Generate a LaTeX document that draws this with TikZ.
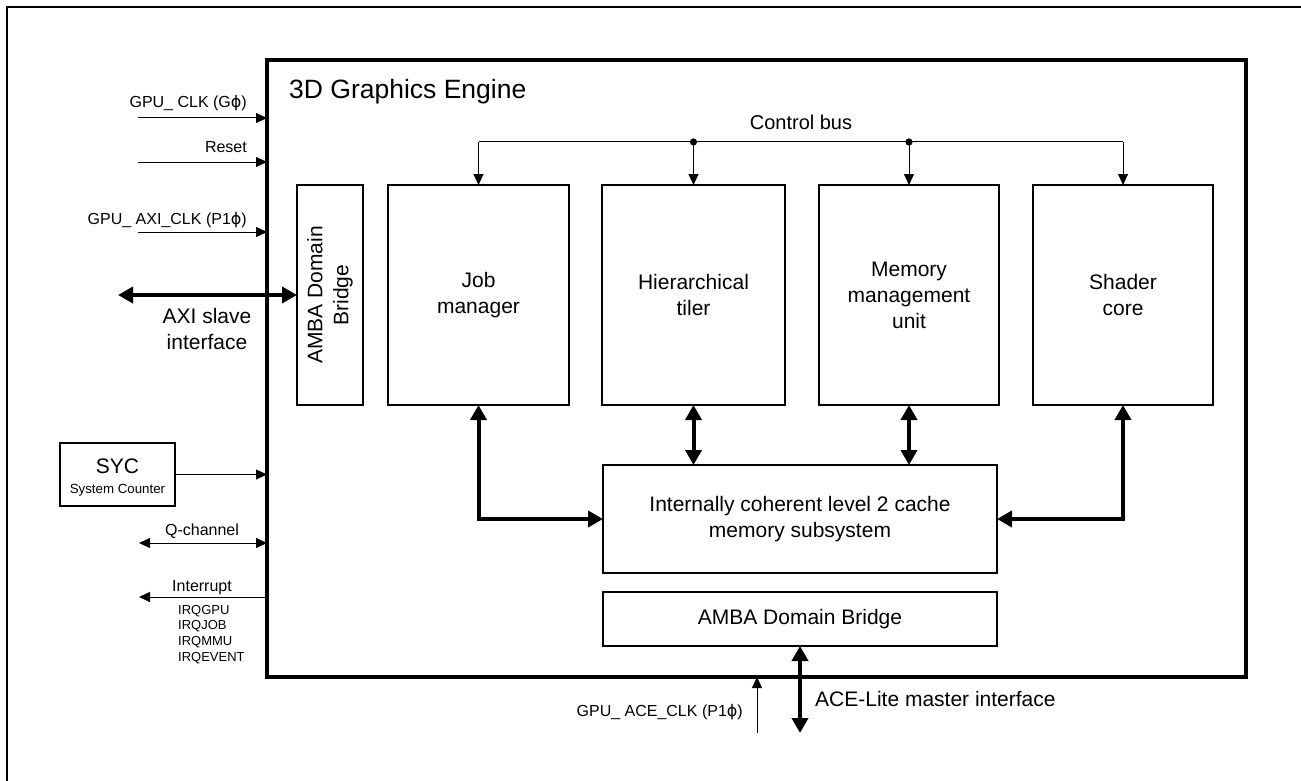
\documentclass[tikz,border=0pt]{standalone}
\usepackage{fontspec}
\setmainfont{Liberation Sans}
\newfontfamily\dvfont{DejaVu Sans}
\usetikzlibrary{arrows.meta}
\newcommand\phisym{{\dvfont ϕ}}
\begin{document}
\begin{tikzpicture}[x=1pt,y=-1pt,
  box/.style={draw, line width=1.4pt, inner sep=0pt, outer sep=0pt, align=center, font=\fontsize{21}{26}\selectfont},
  lbl/.style={inner sep=0pt, font=\fontsize{16}{19}\selectfont},
  big/.style={inner sep=0pt, font=\fontsize{21}{26}\selectfont, align=center},
  sig/.style={line width=1pt, -{Triangle[length=11pt,width=10pt]}},
  sigb/.style={line width=1pt, {Triangle[length=11pt,width=10pt]}-{Triangle[length=11pt,width=10pt]}},
  busline/.style={line width=1pt},
  fat/.style={line width=4pt, {Triangle[length=15pt,width=16pt]}-{Triangle[length=15pt,width=16pt]}},
]
\useasboundingbox (0,0) rectangle (1301,781);
% outer frame
\draw[line width=2pt] (7,781) -- (7,7) -- (1301,7);
% engine
\node[draw, line width=4pt, minimum width=979pt, minimum height=617pt, inner sep=0pt, outer sep=0pt] (eng) at (756.5,368.5) {};
\node[anchor=base west, inner sep=0pt, font=\fontsize{26.5}{30}\selectfont] (title) at (289,99) {3D Graphics Engine};

% inner blocks
\node[box, minimum width=66pt, minimum height=220pt] (amb) at (330,295) {};
\node[big, rotate=90] (ambt) at (amb.center) {AMBA Domain\\Bridge};
\node[box, minimum width=181pt, minimum height=220pt] (job) at (478.5,295) {Job\\manager};
\node[box, minimum width=183pt, minimum height=220pt] (til) at (693.5,295) {Hierarchical\\tiler};
\node[box, minimum width=180pt, minimum height=220pt] (mmu) at (909,295) {Memory\\management\\unit};
\node[box, minimum width=180pt, minimum height=220pt] (sha) at (1123,295) {Shader\\core};
\node[box, minimum width=394pt, minimum height=108pt] (cache) at (800,519) {Internally coherent level 2 cache\\memory subsystem};
\node[box, minimum width=394pt, minimum height=54pt] (ambb) at (800,619) {AMBA Domain Bridge};

% control bus
\coordinate (b1) at (478.5,142);
\coordinate (b2) at (693.5,142);
\coordinate (b3) at (909,142);
\coordinate (b4) at (1123,142);
\draw[busline] (b1) -- (b4);
\draw[sig] (b1) -- (job.north);
\draw[sig] (b2) -- (til.north);
\draw[sig] (b3) -- (mmu.north);
\draw[sig] (b4) -- (sha.north);
\fill (b2) circle (3.6pt);
\fill (b3) circle (3.6pt);
\node[anchor=base, inner sep=0pt, font=\fontsize{20}{24}\selectfont] (cbus) at (801,130) {Control bus};

% data paths
\draw[fat] (job.south) |- (cache.west);
\draw[fat] (sha.south) |- (cache.east);
\draw[fat] (til.south) -- (til.south |- cache.north);
\draw[fat] (mmu.south) -- (mmu.south |- cache.north);

% ACE
\coordinate (ace) at (800,733);
\draw[fat] (ambb.south) -- (ace);
\node[anchor=base west, inner sep=0pt, font=\fontsize{21}{26}\selectfont] (acel) at (815,706) {ACE-Lite master interface};
\coordinate (aceclk) at (757,733);
\draw[sig] (aceclk) -- (aceclk |- eng.south);
\node[lbl, anchor=base east] (aceclkl) at (743,716) {GPU\_ ACE\_CLK (P1\phisym)};

% left side signals
\coordinate (s1) at (138,118);
\coordinate (s2) at (138,162);
\coordinate (s3) at (138,232);
\draw[sig] (s1) -- (s1 -| eng.west);
\draw[sig] (s2) -- (s2 -| eng.west);
\draw[sig] (s3) -- (s3 -| eng.west);
\node[lbl, anchor=base east] (l1) at (247,108) {GPU\_ CLK (G\phisym)};
\node[lbl, anchor=base east] (l2) at (247,153) {Reset};
\node[lbl, anchor=base east] (l3) at (247,224) {GPU\_ AXI\_CLK (P1\phisym)};

% AXI
\coordinate (axi) at (118,295);
\draw[fat] (axi) -- (axi -| amb.west);
\node[big] (axil) at (207,329) {AXI slave\\interface};

% SYC
\node[draw, line width=1.4pt, minimum width=115pt, minimum height=63pt, inner sep=0pt, outer sep=0pt] (syc) at (117.5,474.5) {};
\node[anchor=base, inner sep=0pt, font=\fontsize{21}{26}\selectfont] (sycl) at (117.5,473) {SYC};
\node[anchor=base, inner sep=0pt, font=\fontsize{13.3}{16}\selectfont] (sycs) at (117.5,493) {System Counter};
\draw[sig] (syc.east) -- (syc.east -| eng.west);

% Q-channel
\coordinate (q) at (139,543);
\draw[sigb] (q) -- (q -| eng.west);
\node[lbl, anchor=base] (ql) at (202,535) {Q-channel};

% Interrupt
\coordinate (irq) at (139,597);
\draw[sig] (irq -| eng.west) -- (irq);
\node[lbl, anchor=base] (irql) at (202,591.5) {Interrupt};
\node[anchor=north west, inner sep=0pt, align=left, font=\fontsize{13}{15.7}\selectfont] (irqs) at (178,605) {IRQGPU\\IRQJOB\\IRQMMU\\IRQEVENT};
\end{tikzpicture}
\end{document}
